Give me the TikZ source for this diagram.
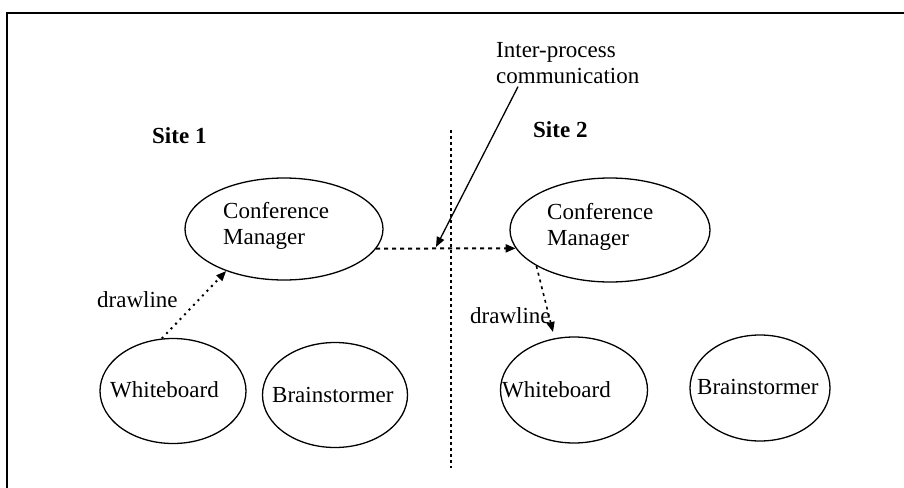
\documentclass[tikz,border=0pt]{standalone}
\usepackage{fontspec}
\setmainfont{Liberation Serif}
\usetikzlibrary{shapes.geometric,arrows.meta}

\tikzset{
  proc/.style={draw, ellipse, line width=1.3pt, inner sep=0pt},
  lbl/.style={inner sep=0pt, anchor=base west},
  twoline/.style={inner sep=0pt, anchor=north west, align=left},
  tip/.style={-{Triangle[length=10pt,width=8pt]}},
  msgline/.style={line width=2pt, dash pattern=on 4pt off 4pt},
  dotline/.style={line width=2pt, dash pattern=on 2pt off 4.5pt},
  dotline2/.style={line width=1.6pt, dash pattern=on 3pt off 4pt},
  divider/.style={line width=1.5pt, dash pattern=on 3pt off 3pt},
}

\begin{document}
\begin{tikzpicture}[x=1pt, y=-1pt, font=\fontsize{23}{26}\selectfont]
    \useasboundingbox (0,0) rectangle (904,487);

    % Frame (only top and left edges fall inside)
    \draw[line width=2pt] (7,495) -- (7,13) -- (910,13);

    % Processes
    \node[proc, minimum width=198pt, minimum height=102pt] (cm1) at (284,229) {};
    \node[proc, minimum width=200pt, minimum height=104pt] (cm2) at (610,230) {};
    \node[proc, minimum width=146pt, minimum height=105pt] (wb1) at (173,391) {};
    \node[proc, minimum width=145pt, minimum height=105pt] (bs1) at (335,395) {};
    \node[proc, minimum width=147pt, minimum height=106pt] (wb2) at (574,390) {};
    \node[proc, minimum width=140pt, minimum height=106pt] (bs2) at (760,388) {};

    \node[twoline] (cm1txt) at (223,202) {Conference\\Manager};
    \node[twoline] (cm2txt) at (547,203) {Conference\\Manager};
    \node[lbl] (wb1txt) at (110,397) {Whiteboard};
    \node[lbl] (bs1txt) at (272,402) {Brainstormer};
    \node[lbl] (wb2txt) at (502,397) {Whiteboard};
    \node[lbl] (bs2txt) at (697,394) {Brainstormer};

    % Site headings
    \node[lbl, font=\fontsize{23}{26}\selectfont\bfseries] (site1) at (152,143) {Site 1};
    \node[lbl, font=\fontsize{23}{26}\selectfont\bfseries] (site2) at (533,137) {Site 2};

    % Boundary between the sites
    \coordinate (divtop) at (451,130);
    \coordinate (divbot) at (451,468);
    \draw[divider] (divtop) -- (divbot);

    % Inter-process message
    \draw[msgline, tip] (cm1.348) -- (cm2.191);
    \coordinate (ipc) at (436,247);
    \node[twoline] (ipctxt) at (496,42) {Inter-process\\communication};
    \draw[line width=1.3pt, tip] ([xshift=22pt,yshift=-3pt]ipctxt.south west) -- (ipc);

    % drawline calls
    \draw[dotline, tip] (wb1.102) -- (cm1.216);
    \node[lbl] (dl1) at (97,307) {drawline};
    \coordinate (dlend) at (553,332);
    \draw[dotline2, tip] (cm2.206) -- (dlend);
    \node[lbl] (dl2) at (470,323) {drawline};

\end{tikzpicture}
\end{document}
